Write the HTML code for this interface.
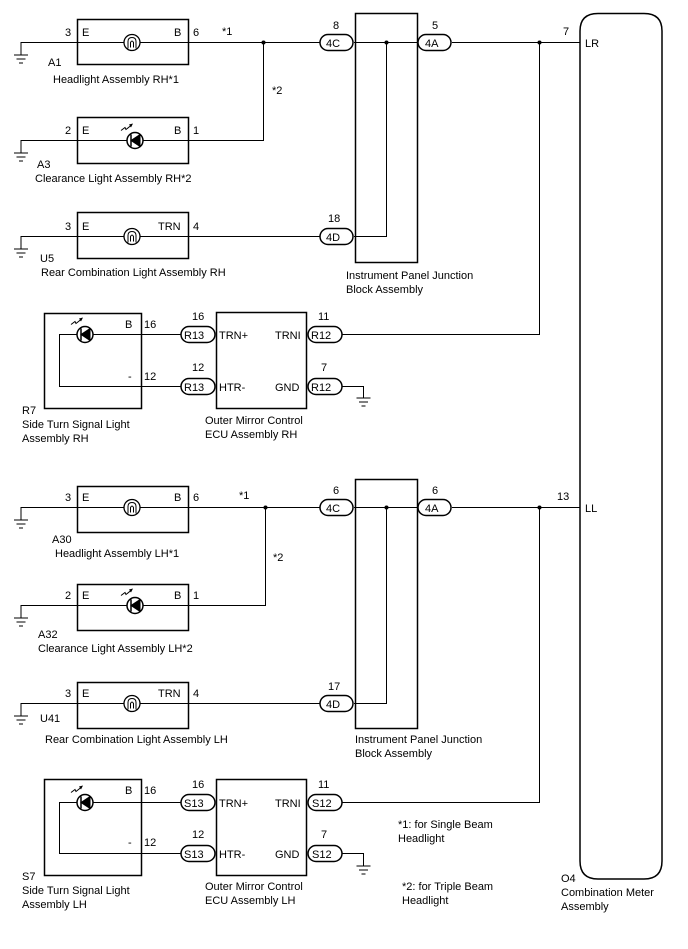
<!DOCTYPE html>
<html><head><meta charset="utf-8"><style>
html,body{margin:0;padding:0;background:#fff;}
svg{display:block;}
text{font-family:"Liberation Sans",Arial,sans-serif;font-size:11px;fill:#000;}
</style></head><body>
<svg width="688" height="949" viewBox="0 0 688 949" xmlns="http://www.w3.org/2000/svg">
<defs>
<g id="gnd" stroke="#000" stroke-width="1" fill="none">
<line x1="-7" y1="0" x2="7" y2="0"/><line x1="-4.5" y1="4" x2="4.5" y2="4"/><line x1="-2" y1="8" x2="2" y2="8"/>
</g>
<g id="bulb" stroke="#000" fill="#fff">
<circle cx="0" cy="0" r="8" stroke-width="1.3"/>
<path d="M-4,6 L-4,-1 Q-4,-5 0,-5 Q4,-5 4,-1 L4,6" fill="none" stroke-width="1"/>
<path d="M-1.5,5 L-1.5,0 Q0,-3 1.5,0 L1.5,5" fill="none" stroke-width="1"/>
</g>
<g id="led" stroke="#000">
<circle cx="0" cy="0" r="8" fill="#fff" stroke-width="1.5"/>
<polygon points="5,-6 5,6 -4,0" fill="#000"/>
<line x1="-4" y1="-6" x2="-4" y2="6" stroke-width="1.5"/>
<path d="M-14,-10 L-10,-13 L-9,-11 L-4,-15" fill="none" stroke-width="1"/>
<polygon points="-2,-17 -6,-16 -4,-13" fill="#000" stroke="none"/>
</g>
</defs>

<g stroke="#000" fill="none" stroke-width="1">
<rect x="77.5" y="19.5" width="111" height="45" stroke-width="1.5"/>
<rect x="77.5" y="117.5" width="111" height="46" stroke-width="1.5"/>
<rect x="77.5" y="212.5" width="111" height="46" stroke-width="1.5"/>
<polyline points="21,55 21,42.5 320,42.5"/>
<polyline points="21,153 21,140.5 263.5,140.5 263.5,42.5"/>
<polyline points="21,249 21,236.5 320,236.5"/>
<rect x="355.5" y="13.5" width="62" height="249" stroke-width="1.5"/>
<polyline points="354,42.5 418,42.5"/>
<polyline points="354,236.5 386.5,236.5 386.5,42.5"/>
<line x1="452" y1="42.5" x2="580" y2="42.5"/>
<polyline points="342,334.5 539.5,334.5 539.5,42.5"/>
<path d="M580,31 Q580,13.5 598,13.5 L644,13.5 Q662,13.5 662,31 L662,861 Q662,879 644,879 L598,879 Q580,879 580,861 Z" stroke-width="1.5"/>
<rect x="44.5" y="313.5" width="97" height="95" stroke-width="1.5"/>
<rect x="216.5" y="312.5" width="90" height="96" stroke-width="1.5"/>
<polyline points="181,334.5 59.5,334.5 59.5,386.5 181,386.5"/>
<polyline points="342,386.5 363.5,386.5 363.5,398"/>

<rect x="77.5" y="486.5" width="111" height="46" stroke-width="1.5"/>
<rect x="77.5" y="584.5" width="111" height="46" stroke-width="1.5"/>
<rect x="77.5" y="682.5" width="111" height="46" stroke-width="1.5"/>
<polyline points="21,520 21,507.5 320,507.5"/>
<polyline points="21,618 21,605.5 265.5,605.5 265.5,507.5"/>
<polyline points="21,716 21,703.5 320,703.5"/>
<rect x="355.5" y="479.5" width="62" height="249" stroke-width="1.5"/>
<polyline points="354,507.5 418,507.5"/>
<polyline points="354,703.5 386.5,703.5 386.5,507.5"/>
<line x1="452" y1="507.5" x2="580" y2="507.5"/>
<polyline points="342,802.5 539.5,802.5 539.5,507.5"/>
<rect x="44.5" y="779.5" width="97" height="96" stroke-width="1.5"/>
<rect x="216.5" y="779.5" width="90" height="96" stroke-width="1.5"/>
<polyline points="181,802.5 59.5,802.5 59.5,853.5 181,853.5"/>
<polyline points="342,853.5 363.5,853.5 363.5,866"/>
</g>

<g fill="#000">
<circle cx="263.5" cy="42.5" r="2"/><circle cx="386.5" cy="42.5" r="2"/><circle cx="539.5" cy="42.5" r="2"/>
<circle cx="265.5" cy="507.5" r="2"/><circle cx="386.5" cy="507.5" r="2"/><circle cx="539.5" cy="507.5" r="2"/>
</g>

<use href="#gnd" x="21" y="55"/><use href="#gnd" x="21" y="153"/><use href="#gnd" x="21" y="249"/>
<use href="#gnd" x="363.5" y="398"/>
<use href="#gnd" x="21" y="520"/><use href="#gnd" x="21" y="618"/><use href="#gnd" x="21" y="716"/>
<use href="#gnd" x="363.5" y="866"/>

<use href="#bulb" x="132" y="42.5"/><use href="#led" x="135" y="140.5"/><use href="#bulb" x="132" y="236.5"/>
<use href="#led" x="85" y="334.5"/>
<use href="#bulb" x="132" y="507.5"/><use href="#led" x="135" y="605.5"/><use href="#bulb" x="132" y="703.5"/>
<use href="#led" x="85" y="802.5"/>

<g stroke="#000" stroke-width="1.5" fill="#fff">
<rect x="320" y="34.5" width="33" height="16" rx="8"/>
<rect x="418" y="34.5" width="33" height="16" rx="8"/>
<rect x="320" y="228.5" width="33" height="16" rx="8"/>
<rect x="181" y="326.5" width="34" height="16" rx="8"/>
<rect x="181" y="378.5" width="34" height="16" rx="8"/>
<rect x="308" y="326.5" width="34" height="16" rx="8"/>
<rect x="308" y="378.5" width="34" height="16" rx="8"/>
<rect x="320" y="499.5" width="33" height="16" rx="8"/>
<rect x="418" y="499.5" width="33" height="16" rx="8"/>
<rect x="320" y="695.5" width="33" height="16" rx="8"/>
<rect x="181" y="794.5" width="34" height="16" rx="8"/>
<rect x="181" y="845.5" width="34" height="16" rx="8"/>
<rect x="308" y="794.5" width="34" height="16" rx="8"/>
<rect x="308" y="845.5" width="34" height="16" rx="8"/>
</g>

<g>
<text x="65" y="36">3</text><text x="82" y="36">E</text><text x="174" y="36">B</text><text x="193" y="36">6</text>
<text x="222" y="35">*1</text>
<text x="48" y="66">A1</text><text x="53" y="83">Headlight Assembly RH*1</text>
<text x="272" y="94">*2</text>
<text x="65" y="134">2</text><text x="82" y="134">E</text><text x="174" y="134">B</text><text x="193" y="134">1</text>
<text x="37" y="168">A3</text><text x="35" y="182">Clearance Light Assembly RH*2</text>
<text x="65" y="230">3</text><text x="82" y="230">E</text><text x="158" y="230">TRN</text><text x="193" y="230">4</text>
<text x="40" y="262">U5</text><text x="41" y="276">Rear Combination Light Assembly RH</text>
<text x="333" y="29">8</text><text x="326" y="47">4C</text>
<text x="432" y="29">5</text><text x="425" y="47">4A</text>
<text x="328" y="222">18</text><text x="326" y="241">4D</text>
<text x="346" y="279">Instrument Panel Junction</text><text x="346" y="293">Block Assembly</text>
<text x="563" y="35">7</text><text x="585" y="47">LR</text>

<text x="125" y="328">B</text><text x="144" y="328">16</text>
<text x="128" y="380">-</text><text x="144" y="380">12</text>
<text x="192" y="320">16</text><text x="184" y="339">R13</text><text x="219" y="339">TRN+</text>
<text x="192" y="371">12</text><text x="184" y="391">R13</text><text x="219" y="391">HTR-</text>
<text x="318" y="320">11</text><text x="311" y="339">R12</text><text x="275" y="339">TRNI</text>
<text x="321" y="371">7</text><text x="311" y="391">R12</text><text x="275" y="391">GND</text>
<text x="22" y="414">R7</text><text x="22" y="428">Side Turn Signal Light</text><text x="22" y="442">Assembly RH</text>
<text x="205" y="424">Outer Mirror Control</text><text x="205" y="438">ECU Assembly RH</text>

<text x="65" y="501">3</text><text x="82" y="501">E</text><text x="174" y="501">B</text><text x="193" y="501">6</text>
<text x="239" y="499">*1</text>
<text x="52" y="543">A30</text><text x="55" y="557">Headlight Assembly LH*1</text>
<text x="273" y="561">*2</text>
<text x="65" y="599">2</text><text x="82" y="599">E</text><text x="174" y="599">B</text><text x="193" y="599">1</text>
<text x="38" y="638">A32</text><text x="38" y="652">Clearance Light Assembly LH*2</text>
<text x="65" y="697">3</text><text x="82" y="697">E</text><text x="158" y="697">TRN</text><text x="193" y="697">4</text>
<text x="40" y="722">U41</text><text x="45" y="743">Rear Combination Light Assembly LH</text>
<text x="333" y="494">6</text><text x="326" y="512">4C</text>
<text x="432" y="494">6</text><text x="425" y="512">4A</text>
<text x="328" y="690">17</text><text x="326" y="708">4D</text>
<text x="355" y="743">Instrument Panel Junction</text><text x="355" y="757">Block Assembly</text>
<text x="557" y="500">13</text><text x="585" y="512">LL</text>

<text x="125" y="794">B</text><text x="144" y="794">16</text>
<text x="128" y="846">-</text><text x="144" y="846">12</text>
<text x="192" y="788">16</text><text x="184" y="807">S13</text><text x="219" y="807">TRN+</text>
<text x="192" y="838">12</text><text x="184" y="858">S13</text><text x="219" y="858">HTR-</text>
<text x="318" y="788">11</text><text x="312" y="807">S12</text><text x="275" y="807">TRNI</text>
<text x="321" y="838">7</text><text x="312" y="858">S12</text><text x="275" y="858">GND</text>
<text x="22" y="880">S7</text><text x="22" y="894">Side Turn Signal Light</text><text x="22" y="908">Assembly LH</text>
<text x="205" y="890">Outer Mirror Control</text><text x="205" y="904">ECU Assembly LH</text>

<text x="398" y="828">*1: for Single Beam</text><text x="398" y="842">Headlight</text>
<text x="402" y="890">*2: for Triple Beam</text><text x="402" y="904">Headlight</text>
<text x="561" y="882">O4</text><text x="561" y="896">Combination Meter</text><text x="561" y="910">Assembly</text>
</g>
</svg>
</body></html>
